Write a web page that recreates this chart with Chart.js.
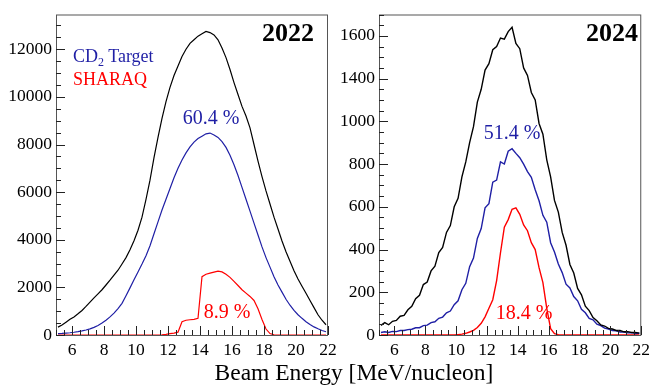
<!DOCTYPE html>
<html>
<head>
<meta charset="utf-8">
<script src="https://cdn.jsdelivr.net/npm/chart.js@4.4.1/dist/chart.umd.min.js"></script>
<style>
body { margin: 0; background: #fff; width: 655px; height: 387px; position: relative; overflow: hidden;
       font-family: "Liberation Serif", "Times New Roman", serif; }
canvas { position: absolute; top: 0; }
#c2022 { left: 0; }
#c2024 { left: 335px; }
.lbl { position: absolute; white-space: nowrap; line-height: 1; transform: translate(-50%, -50%); }
.left { position: absolute; white-space: nowrap; line-height: 1; transform: translate(0, -50%); }
</style>
</head>
<body>
<canvas id="c2022" width="345" height="387"></canvas>
<canvas id="c2024" width="320" height="387"></canvas>

<div class="left" style="left:73px;top:56px;font-size:18px;color:#1f1fa5">CD<span style="font-size:12px;position:relative;top:4px">2</span> Target</div>
<div class="left" style="left:73px;top:79px;font-size:18px;color:#ff0000">SHARAQ</div>
<div class="lbl" style="left:288px;top:33px;font-size:26px;font-weight:bold">2022</div>
<div class="lbl" style="left:612px;top:33px;font-size:26px;font-weight:bold">2024</div>
<div class="lbl" style="left:211px;top:117px;font-size:20px;color:#1f1fa5">60.4 %</div>
<div class="lbl" style="left:227px;top:311px;font-size:20px;color:#ff0000">8.9 %</div>
<div class="lbl" style="left:512px;top:132px;font-size:20px;color:#1f1fa5">51.4 %</div>
<div class="lbl" style="left:524px;top:312px;font-size:20px;color:#ff0000">18.4 %</div>
<div class="lbl" style="left:354px;top:373px;font-size:23.5px">Beam Energy [MeV/nucleon]</div>

<script>
// Histogram binning (MeV/nucleon)
const binLow = 5;
const binWidth = 0.25;

// Axis ticks
const xTickValues = [6, 8, 10, 12, 14, 16, 18, 20, 22];
const yTickValues2022 = [0, 2000, 4000, 6000, 8000, 10000, 12000];
const yTickLabels2022 = ['0', '2000', '4000', '6000', '8000', '10000', '12000'];
const yTickValues2024 = [0, 200, 400, 600, 800, 1000, 1200, 1400];
const yTickLabels2024 = ['0', '200', '400', '600', '800', '1000', '1400', '1600'];

// 2022 counts per bin
const beam2022 = [330, 420, 540, 660, 760, 890, 1030, 1200, 1380, 1560,
    1730, 1900, 2100, 2300, 2510, 2720, 2980, 3250, 3580, 3960,
    4400, 4950, 5700, 6500, 7450, 8300, 9100, 9800, 10400, 10900,
    11300, 11700, 12000, 12250, 12400, 12550, 12650, 12750, 12700, 12600,
    12400, 12050, 11650, 11150, 10600, 10100, 9600, 9200, 8700, 8000,
    7300, 6650, 6050, 5500, 4950, 4450, 3950, 3500, 3100, 2700,
    2350, 2050, 1750, 1450, 1150, 850, 620, 430];
const target2022 = [55, 65, 80, 95, 115, 140, 170, 210, 260, 320,
    400, 500, 620, 760, 920, 1110, 1330, 1650, 1980, 2320,
    2650, 2980, 3330, 3750, 4250, 4750, 5250, 5700, 6150, 6600,
    7000, 7350, 7650, 7900, 8100, 8250, 8350, 8450, 8480, 8400,
    8300, 8120, 7880, 7550, 7150, 6700, 6200, 5700, 5200, 4700,
    4200, 3700, 3250, 2850, 2450, 2100, 1800, 1500, 1250, 1030,
    850, 700, 560, 440, 340, 260, 190, 135];
const sharaq2022 = [0, 0, 0, 0, 0, 0, 0, 0, 0, 0,
    0, 0, 0, 0, 0, 0, 0, 0, 0, 0,
    0, 0, 0, 0, 0, 0, 10, 30, 60, 80,
    120, 560, 620, 640, 660, 700, 2450, 2550, 2600, 2640,
    2680, 2650, 2550, 2420, 2250, 2080, 1900, 1760, 1620, 1450,
    1100, 650, 250, 60, 10, 0, 0, 0, 0, 0,
    0, 0, 0, 0, 0, 0, 0, 0];

// 2024 counts per bin
const beam2024 = [45, 58, 48, 64, 68, 88, 92, 118, 134, 170,
    186, 236, 248, 300, 322, 386, 410, 480, 512, 600,
    640, 740, 810, 900, 975, 1090, 1150, 1240, 1270, 1335,
    1350, 1390, 1385, 1420, 1440, 1365, 1340, 1250, 1215, 1135,
    1100, 990, 940, 820, 740, 630, 575, 480, 420, 330,
    290, 218, 188, 135, 114, 82, 67, 47, 42, 31,
    28, 21, 21, 15, 16, 12, 12, 9];
const target2024 = [12, 15, 12, 17, 16, 21, 21, 25, 27, 34,
    34, 44, 46, 58, 62, 78, 84, 104, 112, 142,
    160, 212, 242, 320, 360, 452, 498, 595, 615, 715,
    725, 810, 800, 860, 872, 850, 830, 800, 765, 738,
    680, 628, 560, 528, 432, 388, 332, 292, 238, 220,
    180, 160, 120, 104, 78, 71, 51, 44, 32, 28,
    21, 20, 14, 14, 10, 11, 7, 8];
const sharaq2024 = [0, 0, 0, 0, 0, 0, 0, 0, 0, 0,
    0, 0, 0, 0, 0, 0, 0, 0, 0, 0,
    2, 4, 8, 14, 22, 35, 55, 85, 125, 165,
    255, 385, 505, 540, 588, 595, 565, 515, 488, 432,
    400, 315, 245, 125, 30, 6, 2, 0, 0, 0,
    0, 0, 0, 0, 0, 0, 0, 0, 0, 0,
    0, 0, 0, 0, 0, 0, 0, 0];

const colBeam = '#000000';
const colTarget = '#1f1fa5';
const colSharaq = '#ff0000';
const fontFamily = '"Liberation Serif", "Times New Roman", serif';

// bin centres for the x positions
const binCenters = beam2022.map((_, i) => binLow + (i + 0.5) * binWidth);

// ROOT-like frame with inward ticks
const rootFrame = {
    id: 'rootFrame',
    afterDraw(chart, args, opts) {
        const { ctx, chartArea: a, scales } = chart;
        const x = scales.x, y = scales.y;
        ctx.save();
        ctx.strokeStyle = '#555';
        ctx.lineWidth = 1;
        ctx.strokeRect(a.left + 0.5, a.top + 0.5, a.right - a.left - 1, a.bottom - a.top);
        ctx.strokeStyle = '#222';
        ctx.beginPath();
        for (let v = x.min; v <= x.max + 1e-9; v += opts.xMinor) {
            const px = Math.round(x.getPixelForValue(v)) + 0.5;
            const len = Math.abs(v % opts.xMajor) < 1e-9 ? 9 : 5;
            ctx.moveTo(px, a.bottom);
            ctx.lineTo(px, a.bottom - len);
        }
        for (let v = 0; v <= y.max + 1e-9; v += opts.yMinor) {
            const py = Math.round(y.getPixelForValue(v)) + 0.5;
            const len = Math.abs(v % opts.yMajor) < 1e-9 ? 9 : 5;
            ctx.moveTo(a.left, py);
            ctx.lineTo(a.left + len, py);
        }
        ctx.stroke();
        ctx.restore();
    }
};

function histDataset(values, color, width) {
    return {
        data: values.map((v, i) => ({ x: binCenters[i], y: v })),
        borderColor: color,
        borderWidth: width,
        pointRadius: 0,
        tension: 0,
        fill: false
    };
}

function makeChart(id, series, lineWidth, yMax, yTicks, yLabels, yAxisWidth, padding, frameOpts) {
    return new Chart(document.getElementById(id), {
        type: 'line',
        data: {
            datasets: [
                histDataset(series[0], colBeam, lineWidth),
                histDataset(series[1], colTarget, lineWidth),
                histDataset(series[2], colSharaq, lineWidth)
            ]
        },
        options: {
            responsive: false,
            devicePixelRatio: 1,
            animation: false,
            layout: { padding: padding },
            plugins: {
                legend: { display: false },
                tooltip: { enabled: false },
                rootFrame: frameOpts
            },
            scales: {
                x: {
                    type: 'linear', min: 5, max: 22,
                    grid: { display: false, drawTicks: false },
                    border: { display: false },
                    afterBuildTicks: s => { s.ticks = xTickValues.map(v => ({ value: v })); },
                    afterFit: s => { s.height = 52; },
                    ticks: { padding: 5, color: '#000', maxRotation: 0, autoSkip: false,
                             font: { family: fontFamily, size: 17.5 } }
                },
                y: {
                    type: 'linear', min: 0, max: yMax,
                    grid: { display: false, drawTicks: false },
                    border: { display: false },
                    afterBuildTicks: s => { s.ticks = yTicks.map(v => ({ value: v })); },
                    afterFit: s => { s.width = yAxisWidth; },
                    ticks: { padding: 4, color: '#000', autoSkip: false,
                             font: { family: fontFamily, size: 17.5 },
                             callback: (v, i) => yLabels[i] }
                }
            }
        },
        plugins: [rootFrame]
    });
}

function drawAll() {
    makeChart('c2022', [beam2022, target2022, sharaq2022], 1.2, 13460,
        yTickValues2022, yTickLabels2022, 56,
        { top: 12, right: 17, left: 0, bottom: 0 },
        { xMinor: 0.5, xMajor: 2, yMinor: 500, yMajor: 2000 });

    makeChart('c2024', [beam2024, target2024, sharaq2024], 1.4, 1500,
        yTickValues2024, yTickLabels2024, 44,
        { top: 13, right: 3, left: 0, bottom: 0 },
        { xMinor: 0.5, xMajor: 2, yMinor: 50, yMajor: 200 });
}

// make sure the serif face is ready before the canvas text is drawn
document.fonts.load('17.5px "Liberation Serif"').then(drawAll, drawAll);
</script>
</body>
</html>
